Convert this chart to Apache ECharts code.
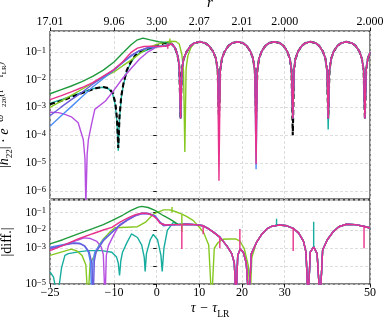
<!DOCTYPE html>
<html><head><meta charset="utf-8">
<script src="https://cdn.jsdelivr.net/npm/echarts@6/dist/echarts.min.js"></script>
<style>html,body{margin:0;padding:0;background:#fff}#c{width:389px;height:327px}</style>
</head><body><div id="c"></div>
<script>
// ---------- axes ----------
const xTicks = [-25, -10, 0, 10, 20, 30, 50];
const rTickLabels = ['17.01', '9.06', '3.00', '2.07', '2.01', '2.000', '2.000'];

// ---------- top panel: |h22| e^{-w(t-tLR)} ----------
const ringTop = [[3.5,0.195],[4.3,0.14],[4.9,0.075],[5.3,0.03],[5.6,4e-4],
 [5.9,0.022],[6.3,0.055],[7.0,0.10],[7.9,0.16],[8.8,0.205],[10.1,0.23],[11.4,0.205],[12.3,0.163],[13.2,0.104],[13.9,0.057],[14.3,0.022],[14.6,4e-4],
 [14.9,0.022],[15.3,0.057],[15.95,0.104],[16.8,0.163],[17.65,0.205],[18.95,0.23],[20.25,0.205],[21.1,0.163],[21.95,0.104],[22.6,0.057],[23.0,0.022],[23.3,4e-4],
 [23.6,0.022],[24.0,0.057],[24.6,0.104],[25.45,0.163],[26.3,0.205],[27.6,0.23],[28.9,0.205],[29.75,0.163],[30.6,0.104],[31.2,0.057],[31.6,0.022],[31.9,4e-4],
 [32.2,0.022],[32.55,0.057],[33.15,0.104],[34.0,0.163],[34.8,0.205],[36.05,0.23],[37.3,0.205],[38.1,0.163],[38.95,0.104],[39.55,0.057],[39.95,0.022],[40.2,4e-4],
 [40.5,0.022],[40.9,0.057],[41.5,0.104],[42.35,0.163],[43.2,0.205],[44.5,0.23],[45.8,0.205],[46.65,0.163],[47.5,0.104],[48.1,0.057],[48.5,0.022],[48.8,4e-4],
 [49.1,0.022],[49.5,0.057],[50,0.095]];

const blackTop = [[-25,1.3e-3],[-22,1.8e-3],[-19,2.7e-3],[-16,4.0e-3],[-14,5.0e-3],[-12.5,5.4e-3],[-11.2,4.9e-3],[-10.3,3.3e-3],[-9.7,1.5e-3],[-9.3,4e-4],[-9.0,3.5e-5],[-8.7,5e-4],[-8.3,2.5e-3],[-7.8,7e-3],[-7,0.022],[-6,0.045],[-5,0.075],[-4,0.1],[-2,0.135],[0,0.165],[1.5,0.2],[2.5,0.21]];
const tealTop = [[-25,1.4e-3],[-22,2.0e-3],[-19,2.9e-3],[-16,4.2e-3],[-14,5.1e-3],[-12.5,5.3e-3],[-11.2,4.6e-3],[-10.3,3e-3],[-9.7,1.2e-3],[-9.3,3e-4],[-9.0,2.8e-5],[-8.7,4e-4],[-8.3,2.2e-3],[-7.8,6.5e-3],[-7,0.02],[-6,0.042],[-5,0.07],[-4,0.09],[-2,0.12],[0,0.15],[2,0.17]];
const dkGreenTop = [[-25,3.1e-3],[-22.5,4.3e-3],[-20,5.9e-3],[-17.5,8.5e-3],[-15,0.013],[-12.5,0.022],[-10,0.043],[-8,0.088],[-6,0.18],[-4.5,0.27],[-3.2,0.31],[-1.5,0.27],[0.5,0.23],[2,0.215],[3,0.205]];
const pinkTop = [[-25,1.9e-3],[-22.5,2.6e-3],[-20,3.6e-3],[-17.5,5.2e-3],[-15,7.8e-3],[-12.5,0.0135],[-10,0.023],[-8,0.043],[-6,0.095],[-4.5,0.135],[-3,0.155],[-1,0.16],[1,0.155],[2.6,0.165]];
const limeTop = [[-25,1.0e-3],[-22.5,1.65e-3],[-20,2.7e-3],[-17.5,4.5e-3],[-15,7.4e-3],[-12.5,0.012],[-10,0.019],[-8,0.031],[-6,0.05],[-4,0.085],[-2,0.14],[0,0.185],[1.5,0.21],[3.1,0.24],[4.5,0.235],[5.3,0.19],[5.9,0.08],[6.3,0.02],[6.6,2.5e-5],[6.9,0.025],[7.3,0.07],[8,0.14],[8.8,0.2]];
const blueTop = [[-25,2.1e-4],[-22.5,4.8e-4],[-20,1.07e-3],[-17.5,2.4e-3],[-15,5.4e-3],[-12.5,0.011],[-10,0.022],[-8,0.04],[-6,0.07],[-4,0.11],[-2,0.14],[0,0.16],[2,0.16]];
const purpleTop = [[-25,5e-4],[-22.5,1e-3],[-20,1.9e-3],[-17.5,3.5e-3],[-15,6.8e-3],[-12.5,0.0125],[-10,0.023],[-8,0.042],[-6,0.074],[-4,0.11],[-2,0.14],[0,0.155],[2,0.16]];
const orchidTop = [[-25,6.7e-4],[-23,6.5e-4],[-21.5,5.6e-4],[-20,4.6e-4],[-18.4,2.8e-4],[-17.2,7e-5],[-16.8,1.4e-5],[-16.6,3e-7],[-16.3,2e-5],[-16.0,7e-5],[-15.2,2.8e-4],[-14.5,8.5e-4],[-12,1.7e-3],[-10,4.2e-3],[-8,0.011],[-6,0.025],[-4,0.055],[-2,0.1],[0,0.15],[2,0.16]];
const pinkTopDips = {14.6: 2.3e-6, 23.3: 9e-6};
const blueTopDips = {23.3: 6e-6};
const blackTopDips = {31.9: 1e-4};
const tealTopDips = {40.2: 1.6e-4};
const limeTopSpikes = [[3.1, 0.2, 0.3]];
const pinkTopSpikes = [[2.6, 0.13, 0.2]];

// ---------- bottom panel: |diff.| ----------
const ringBot = [[5,0.021],[7,0.022],[9,0.021],[10.9,0.018],[12,0.013],[13.3,8e-3],[14.8,4.2e-3],[16.4,1.4e-3],[17.6,5e-4],[18.2,1.5e-4],[18.6,1e-6],[19.0,4e-4],[19.6,9e-4],[20.3,6e-4],[21,1.5e-4],[21.6,1e-6],[22.2,5e-4],[23.4,2.1e-3],[24.5,5.5e-3],[25.8,0.012],[27,0.017],[28.7,0.02],[30.5,0.018],[32,0.013],[33.3,7e-3],[34.4,2.5e-3],[35,6e-4],[35.5,1e-6],[36,6e-4],[36.8,1.2e-3],[37.6,5e-4],[38.3,1e-6],[38.9,8e-4],[40,3e-3],[41.3,8e-3],[42.7,0.016],[44.5,0.022],[46.5,0.021],[48.5,0.017],[50,0.0135]];

const dkGreenBot = [[-25,1.75e-3],[-22,3e-3],[-18.4,6.3e-3],[-15,0.0125],[-12.5,0.021],[-10.5,0.035],[-8,0.07],[-6,0.13],[-4.3,0.2],[-3.5,0.22],[-2,0.19],[-0.4,0.13],[1.6,0.066],[3.1,0.043],[4.5,0.026]];
const pinkBot = [[-25,7.4e-4],[-22,1.4e-3],[-18.4,3.3e-3],[-15,6.5e-3],[-12.5,0.0105],[-10.5,0.0148],[-8.5,0.03],[-6.6,0.052],[-5,0.075],[-3.5,0.092],[-2.3,0.09],[-1.2,0.075],[0,0.045],[0.8,0.025],[2,0.02],[3.5,0.021]];
const blueBot = [[-25,1.15e-3],[-22,1.6e-3],[-19.5,2.0e-3],[-18,1.9e-3],[-17,1.4e-3],[-16,6e-4],[-15.5,1.5e-4],[-15.2,1e-6],[-14.9,2e-4],[-14.5,6e-4],[-12.5,3e-3],[-10.5,7.9e-3],[-8.5,0.022],[-6.6,0.043],[-5,0.07],[-3.5,0.09],[-2,0.088],[-0.4,0.066],[0.8,0.03],[1.6,0.018],[3,0.02]];
const purpleBot = [[-25,1.0e-3],[-22,1.45e-3],[-19.5,1.9e-3],[-18,1.8e-3],[-16.8,1.3e-3],[-15.8,6e-4],[-15.2,1.5e-4],[-14.9,1e-6],[-14.6,2e-4],[-14.2,6e-4],[-12.5,2.6e-3],[-10.5,7.5e-3],[-8.5,0.021],[-6.6,0.042],[-5,0.068],[-3.5,0.09],[-2,0.088],[-0.4,0.062],[0.8,0.028],[1.6,0.019],[3,0.02]];
const orchidBot = [[-25,9e-4],[-22,1.5e-3],[-19,2.6e-3],[-17,3.8e-3],[-15.5,3.5e-3],[-14,2.4e-3],[-13,1.2e-3],[-12.5,4.5e-4],[-12.1,1e-6],[-11.8,4e-4],[-11.3,1.4e-3],[-10,6e-3],[-9,0.016],[-7,0.035],[-5,0.065],[-3.5,0.085],[-2,0.085],[-0.4,0.06],[0.8,0.027],[2,0.02],[3.5,0.021]];
const limeBot = [[-25,4e-4],[-22,6.5e-4],[-20,9e-4],[-18.7,7e-4],[-17.5,4e-4],[-16.6,1.2e-4],[-16.1,1e-6],[-15.6,1.5e-4],[-14.5,4e-4],[-13.5,1.5e-3],[-12.5,3.3e-3],[-11,8e-3],[-9.8,0.014],[-7,0.015],[-4.5,0.016],[-2.5,0.03],[-0.8,0.08],[1.6,0.14],[3.1,0.14],[4.5,0.11],[5.9,0.08],[7,0.06],[8.6,0.035],[10,0.015],[11,7.5e-3],[12.2,1.5e-3],[12.9,1e-6],[13.5,1e-3],[14.4,2.1e-3],[15.5,3.2e-3],[17,3.3e-3],[18.5,3.3e-3],[19.5,2.5e-3],[20.5,1e-3],[21.5,1e-4],[21.9,1e-6],[22.3,3e-4],[23.4,2.2e-3],[24.5,5.5e-3]];
const tealBot = [[-25,4.7e-5],[-24.2,2.5e-5],[-23.6,5e-6],[-23.2,1e-6],[-22.8,1e-5],[-22.3,8e-5],[-21.5,4e-4],[-20.7,5e-4],[-18,6.5e-4],[-16,7.4e-4],[-12.9,7.4e-4],[-10.5,6e-4],[-9.4,3.2e-4],[-9,1.5e-4],[-8.7,3e-5],[-8.4,2e-4],[-8,6e-4],[-7,2e-3],[-5.9,6.3e-3],[-4.5,4e-3],[-3.5,1.5e-3],[-2.9,3e-4],[-2.7,5e-5],[-2.4,5e-4],[-1.5,3e-3],[-0.8,6e-3],[0.2,3e-3],[1.0,4e-4],[1.3,5e-5],[1.7,1e-3],[2.5,0.01],[3.9,0.028],[5,0.022]];
const pinkBotSpikes = [[5.9,0.022,9e-4],[10.9,0.018,6e-3],[14.8,4.2e-3,1e-3],[19.5,9e-4,0.012],[32,0.013,7e-4],[48.6,0.017,1e-3]];
const tealBotSpikes = [[28.1,0.02,0.045],[36.8,1.2e-3,0.03]];
const limeBotSpikes = [[3.6,0.1,0.2],[5.9,0.08,8e-3]];

// ---------- build ----------
const FONT = "'Liberation Serif','DejaVu Serif',serif";
const C = {dkgreen:'#1f9a3d', lime:'#86c820', pink:'#e8318b', blue:'#4c8ef6', purple:'#6b5cdb', orchid:'#b64fe0', teal:'#16ad9f', black:'#000'};

function join(early, ring, dips) {
  const last = early[early.length - 1][0];
  return early.concat(ring.filter(p => p[0] > last)
    .map(p => (dips && dips[p[0]] !== undefined) ? [p[0], dips[p[0]]] : p));
}
function line(data, color, xi, yi, extra) {
  return Object.assign({type:'line', data, xAxisIndex: xi, yAxisIndex: yi, showSymbol:false, symbol:'none',
    animation:false, silent:true, clip:true, lineStyle:{color, width:1.4}, itemStyle:{color}}, extra || {});
}
function spikes(list, color, xi, yi) {
  return list.map(s => line([[s[0], s[1]], [s[0], s[2]]], color, xi, yi));
}
function expLabel(skip) {
  return function (v) {
    const e = Math.log10(v), r = Math.round(e);
    if (Math.abs(e - r) > 1e-3 || skip.indexOf(r) >= 0) return '';
    return '{n|10}{s|\u2212' + Math.abs(r) + '}';
  };
}
const yRich = {
  n: {fontSize: 11.5, fontFamily: FONT, color: '#000', verticalAlign: 'bottom', lineHeight: 12, padding: [5,0,0,0]},
  s: {fontSize: 8.5, fontFamily: FONT, color: '#000', verticalAlign: 'top', lineHeight: 9}
};
const gridLine = {show: true, lineStyle: {color: '#d4d4d4', width: 0.8, type: [3, 2]}};
const tick = {show: true, inside: false, length: 3.5, lineStyle: {color: '#000', width: 0.9}};

const series = [
  line(join(tealTop, ringTop, tealTopDips), C.teal, 0, 0),
  line(join(blackTop, ringTop, blackTopDips), C.black, 0, 0, {lineStyle:{color:'#000', width:2.1, type:[5,3]}}),
  line(join(limeTop, ringTop), C.lime, 0, 0),
  line(join(orchidTop, ringTop), C.orchid, 0, 0),
  line(join(dkGreenTop, ringTop), C.dkgreen, 0, 0),
  line(join(blueTop, ringTop, blueTopDips), C.blue, 0, 0),
  line(join(purpleTop, ringTop), C.purple, 0, 0),
  line(join(pinkTop, ringTop, pinkTopDips), C.pink, 0, 0),
  ...spikes(limeTopSpikes, C.lime, 0, 0),
  ...spikes(pinkTopSpikes, C.pink, 0, 0),

  line(join(tealBot, ringBot), C.teal, 2, 1),
  line(limeBot.concat(ringBot.filter(p => p[0] > 24.5)), C.lime, 2, 1),
  line(join(dkGreenBot, ringBot), C.dkgreen, 2, 1),
  line(join(orchidBot, ringBot), C.orchid, 2, 1),
  line(join(blueBot, ringBot), C.blue, 2, 1),
  line(join(purpleBot, ringBot), C.purple, 2, 1),
  line(join(pinkBot, ringBot), C.pink, 2, 1),
  ...spikes(limeBotSpikes, C.lime, 2, 1),
  ...spikes(tealBotSpikes, C.teal, 2, 1),
  ...spikes(pinkBotSpikes, C.pink, 2, 1)
];

const T = (size, padTop, italic) => ({fontSize: size, fontFamily: FONT, color: '#000', fontStyle: italic ? 'italic' : 'normal',
  verticalAlign: 'top', lineHeight: Math.round(size * 1.1), padding: [padTop, 0, 0, 0]});

const option = {
  backgroundColor: '#fff',
  animation: false,
  grid: [
    {left: 50, top: 31, width: 320, height: 168, show: true, borderColor: '#000', borderWidth: 1, backgroundColor: 'transparent', containLabel: false, outerBoundsMode: 'none'},
    {left: 50, top: 200, width: 320, height: 84, show: true, borderColor: '#000', borderWidth: 1, backgroundColor: 'transparent', containLabel: false, outerBoundsMode: 'none'}
  ],
  xAxis: [
    {gridIndex: 0, type: 'value', min: -25, max: 50, position: 'bottom', axisLine: {show: false}, axisTick: {show: false}, axisLabel: {show: false}, splitLine: {show: false}},
    {gridIndex: 0, type: 'value', min: -25, max: 50, position: 'top', axisLine: {show: false},
      axisTick: Object.assign({customValues: xTicks}, tick),
      axisLabel: {customValues: xTicks, margin: 3, fontSize: 12, fontFamily: FONT, color: '#000',
        formatter: v => rTickLabels[xTicks.indexOf(v)] || ''},
      splitLine: gridLine,
      name: 'r\u0304', nameLocation: 'middle', nameGap: 20,
      nameTextStyle: {fontSize: 15, fontStyle: 'italic', fontFamily: FONT, color: '#000'}},
    {gridIndex: 1, type: 'value', min: -25, max: 50, position: 'bottom', axisLine: {show: false},
      axisTick: Object.assign({customValues: xTicks}, tick),
      axisLabel: {customValues: xTicks, margin: 3, fontSize: 12, fontFamily: FONT, color: '#000',
        formatter: v => (v < 0 ? '\u2212' + (-v) : String(v))},
      splitLine: gridLine,
      name: '{m|\u03c4 \u2212 \u03c4}{s|LR}', nameLocation: 'middle', nameGap: 17,
      nameTextStyle: {rich: {m: T(14, 0, true), s: T(9.5, 8, false)}}}
  ],
  yAxis: [
    {gridIndex: 0, type: 'log', logBase: 10, min: 5.1e-7, max: 0.56, splitNumber: 6,
      axisLine: {show: false}, axisTick: tick, minorTick: {show: false},
      axisLabel: {margin: 4, formatter: expLabel([]), rich: yRich, showMinLabel: false, showMaxLabel: false},
      splitLine: gridLine,
      name: '{t||}{ti|h\u0307}{sb|22}{t|| \u00b7 }{ti|e}{sp|\u2212\u03c9}{su|Im}{sd|220}{sp|(\u03c4 \u2212 \u03c4}{sd|LR}{sp|)}',
      nameLocation: 'middle', nameRotate: 90, nameGap: 24,
      nameTextStyle: {rich: {
        t: T(14, 4, false), ti: T(14, 4, true), sb: T(9, 12, false),
        sp: T(10, 1.5, true), su: T(7, 0, false), sd: T(7, 7, false)}}},
    {gridIndex: 1, type: 'log', logBase: 10, min: 1e-5, max: 0.5, splitNumber: 5,
      axisLine: {show: false}, axisTick: tick, minorTick: {show: false},
      axisLabel: {margin: 4, formatter: expLabel([-4]), rich: yRich, showMinLabel: true, showMaxLabel: false},
      splitLine: gridLine,
      name: '|diff.|', nameLocation: 'middle', nameRotate: 90, nameGap: 27,
      nameTextStyle: {fontSize: 14, fontFamily: FONT, color: '#000'}}
  ],
  series
};
const chart = echarts.init(document.getElementById('c'), null, {renderer: 'canvas'});
chart.setOption(option);
</script>
</body></html>
